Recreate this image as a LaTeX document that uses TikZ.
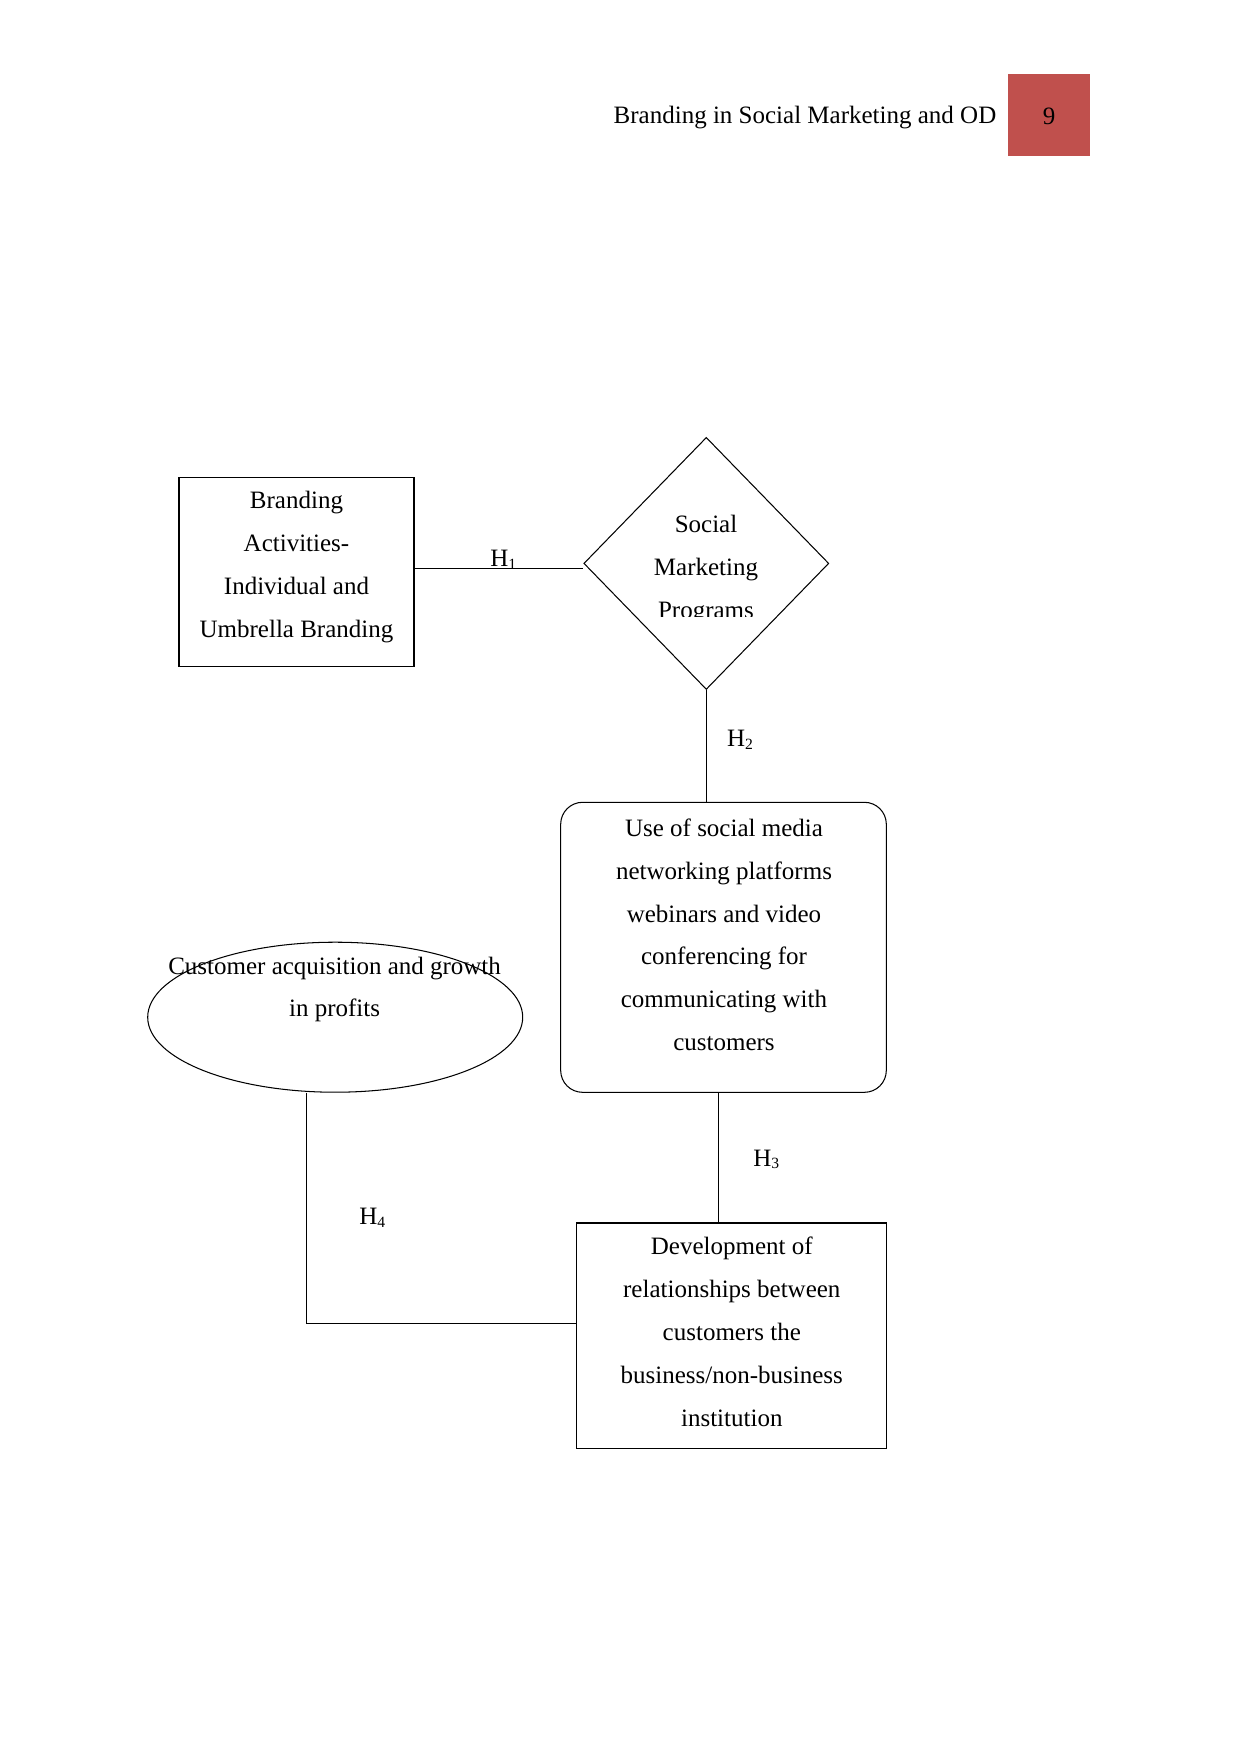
\documentclass[tikz,border=0pt]{standalone}
\usepackage{fontspec}
\setmainfont{Liberation Serif}
\usetikzlibrary{shapes.geometric}
\definecolor{hdrred}{HTML}{C0504D}
\newcommand{\hsub}[1]{H\raisebox{-1.2pt}{\fontsize{7.5}{8}\selectfont #1}}
\begin{document}
\begin{tikzpicture}[x=0.48pt,y=-0.48pt,
  shapebox/.style={draw, line width=0.5pt, inner sep=0pt},
  txt/.style={align=center, inner sep=0pt, font=\fontsize{12}{20.6}\selectfont},
  hlab/.style={inner sep=0pt, anchor=base west, font=\fontsize{12}{14}\selectfont},
  conn/.style={line width=0.5pt}]
\useasboundingbox (0,0) rectangle (1241,1754);

% header
\node[txt, anchor=center] (hdr) at (805,117.5) {Branding in Social Marketing and OD};
\node[fill=hdrred, minimum width=39.4pt, minimum height=39.4pt, inner sep=0pt] (pg) at (1049,115) {};
\node[txt] (pgnum) at (1049,116.5) {9};

% shapes
\node[shapebox, minimum width=112.8pt, minimum height=90.7pt] (box1) at (296.5,572.3) {};
\node[shapebox, diamond, minimum width=117.6pt, minimum height=121pt] (dia) at (706.3,563.4) {};
\node[shapebox, rounded corners=10.5pt, minimum width=156.3pt, minimum height=139.2pt] (rbox) at (723.5,947.3) {};
\node[shapebox, minimum width=148.8pt, minimum height=108pt] (bbox) at (731.3,1335.5) {};
\node[shapebox, ellipse, minimum width=180pt, minimum height=72pt] (ell) at (335.2,1017.2) {};

% texts
\node[txt] (t1) at (296.5,567) {Branding\\Activities-\\Individual and\\Umbrella Branding};
\begin{scope}
  \clip (560,430) rectangle (860,616);
  \node[txt] (t2) at (706,569.8) {Social\\Marketing\\Programs};
\end{scope}
\node[txt] (t3) at (724,934.8) {Use of social media\\networking platforms\\webinars and video\\conferencing for\\communicating with\\customers};
\node[txt] (t4) at (731.8,1332) {Development of\\relationships between\\customers the\\business/non-business\\institution};
\node[txt] (t5) at (334.6,989.5) {Customer acquisition and growth\\in profits};

% connectors
\draw[conn] ([yshift=-2.6pt]box1.east |- dia.west) -- ([yshift=-2.6pt]dia.west);
\draw[conn] (dia.south) -- (dia.south |- rbox.north);
\draw[conn] ([xshift=-2.5pt]rbox.south) -- ([xshift=-2.5pt]rbox.south |- bbox.north);
\draw[conn] ([xshift=-13.7pt]ell.south) |- ([yshift=5.6pt]bbox.west);

% labels
\node[hlab] (h1) at (490,566.7) {\hsub{1}};
\node[hlab] (h2) at (726.7,746.7) {\hsub{2}};
\node[hlab] (h3) at (753,1166) {\hsub{3}};
\node[hlab] (h4) at (359,1224.5) {\hsub{4}};
\end{tikzpicture}
\end{document}
